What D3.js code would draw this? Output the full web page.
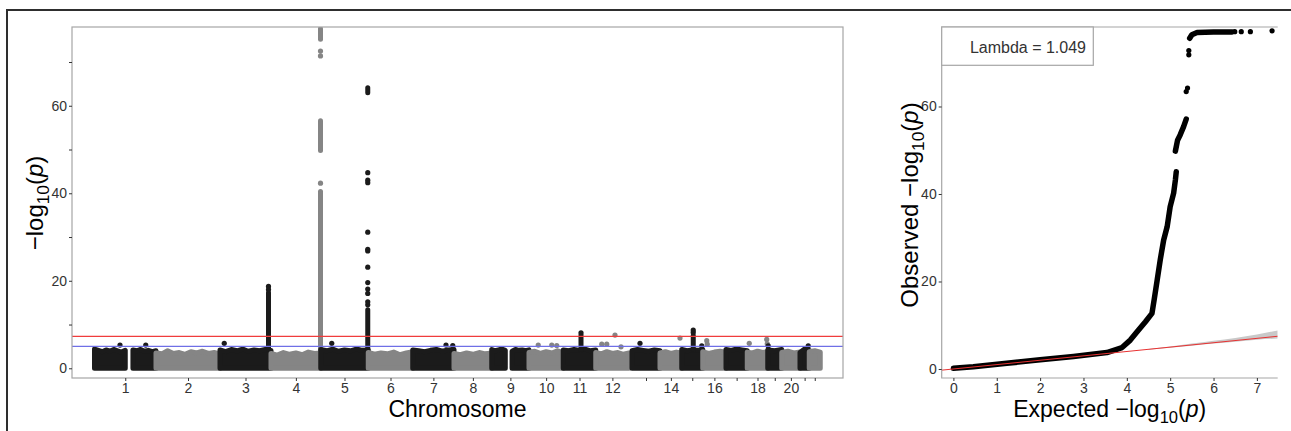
<!DOCTYPE html>
<html>
<head>
<meta charset="utf-8">
<script src="https://cdn.jsdelivr.net/npm/d3@7"></script>
<style>
  body { margin: 0; background: #fff; }
  svg text { font-family: "Liberation Sans", Arial, sans-serif; }
</style>
</head>
<body>
<div id="chart"></div>
<script>
// GWAS Manhattan + QQ — D3 v7

// ---------- Manhattan data ----------
const chrNames = ["1","2","3","4","5","6","7","8","9","10","11","12","13","14","15","16","17","18","19","20","21","22"];
const chrTickLabels = ["1","2","3","4","5","6","7","8","9","10","11","12","","14","","16","","18","","20","",""];
// plotted extent per chromosome (Mb) and offset of first SNP
const chrLen   = [246, 256, 204, 199, 190, 178, 165, 151, 149, 137, 130, 133, 124, 87, 84, 93, 85, 82, 56, 73, 37, 44];
const chrStart = [0, 0, 0, 0, 0, 0, 0, 0, 0, 0, 0, 0, 12, 0, 0, 0, 0, 0, 0, 0, 0, 0];
// upper envelope of the dense SNP cloud, evenly spaced along each chromosome (null = no SNPs)
const bodyTop = [
  [4.4, 4.1, 3.8, 4.2, 3.9, 4.3, 4.0, 3.7, 4.1, null, 4.2, 4.0, 4.3, 3.9, 4.1, 3.8, 4.0],
  [3.5, 3.3, 4.0, 3.4, 3.6, 3.2, 3.8, 3.5, 3.9, 3.4, 3.6, 3.3],
  [4.2, 3.8, 4.3, 4.0, 4.4, 3.9, 4.2, 4.0, 4.3, 4.1],
  [3.4, 3.0, 3.6, 3.2, 3.5, 3.1, 3.7, 3.4, 3.5],
  [4.3, 4.0, 4.4, 3.9, 4.2, 4.0, 4.4, 4.1, 4.2],
  [3.6, 3.2, 3.5, 3.3, 3.7, 3.1, 3.5, 3.8],
  [4.2, 4.0, 3.8, 4.1, 4.3, 3.9, 4.2, 4.3],
  [3.4, 3.1, 3.5, 3.2, 3.6, 3.3, 3.5],
  [4.3, 4.0, 4.2, 4.4, 4.1, null, 3.9, 4.3, 4.1, 4.2, 4.0, 4.2],
  [3.6, 3.9, 3.4, 3.8, 3.5, 4.0, 3.6],
  [4.2, 4.0, 4.3, 4.1, 4.4, 4.0, 4.2],
  [3.6, 3.3, 3.8, 3.4, 3.6, 3.2, 3.5],
  [4.0, 4.3, 4.1, 3.9, 4.2, 4.0],
  [3.5, 3.8, 3.4, 3.7, 3.5],
  [4.3, 4.0, 4.2, 4.1, 4.3],
  [3.8, 3.4, 3.7, 3.9, 3.6],
  [4.3, 4.1, 4.4, 4.2, 4.0],
  [3.7, 3.5, 3.9, 3.6, 3.8],
  [4.2, 4.0, 4.3],
  [3.6, 3.9, 3.5, 3.7],
  [3.6, 4.4, 4.1],
  [3.8, 4.0, 3.7]
];
// dense runs of SNPs at the association peaks
const peakColumns = [
  { chr: 3,  pos: 194, lo: 4.3,  hi: 17.3 },
  { chr: 4,  pos: 198, lo: 4.0,  hi: 40.4 },
  { chr: 4,  pos: 198, lo: 49.8, hi: 56.6 },
  { chr: 4,  pos: 198, lo: 75.2, hi: 77.6 },
  { chr: 5,  pos: 188, lo: 4.3,  hi: 13.4 },
  { chr: 5,  pos: 188, lo: 63.0, hi: 64.1 },
  { chr: 11, pos: 71,  lo: 4.3,  hi: 7.6 },
  { chr: 15, pos: 46,  lo: 4.3,  hi: 7.5 }
];
// single SNPs standing out of the cloud
const peakDots = [
  { chr: 1, pos: 102, p: 5.3 }, { chr: 1, pos: 205, p: 5.3 },
  { chr: 3, pos: 17, p: 5.7 }, { chr: 3, pos: 194, p: 18.0 }, { chr: 3, pos: 194, p: 18.7 },
  { chr: 4, pos: 198, p: 42.3 }, { chr: 4, pos: 198, p: 71.4 }, { chr: 4, pos: 198, p: 72.5 },
  { chr: 5, pos: 44, p: 5.7 },
  { chr: 5, pos: 188, p: 14.5 }, { chr: 5, pos: 188, p: 15.2 }, { chr: 5, pos: 188, p: 17.1 },
  { chr: 5, pos: 188, p: 18.1 }, { chr: 5, pos: 188, p: 19.6 }, { chr: 5, pos: 188, p: 23.1 },
  { chr: 5, pos: 188, p: 26.8 }, { chr: 5, pos: 188, p: 27.2 }, { chr: 5, pos: 188, p: 31.1 },
  { chr: 5, pos: 188, p: 42.4 }, { chr: 5, pos: 188, p: 43.0 }, { chr: 5, pos: 188, p: 44.7 },
  { chr: 7, pos: 133, p: 5.3 }, { chr: 7, pos: 160, p: 5.2 },
  { chr: 10, pos: 37, p: 5.3 }, { chr: 10, pos: 91, p: 5.3 }, { chr: 10, pos: 111, p: 5.2 },
  { chr: 11, pos: 71, p: 8.1 },
  { chr: 12, pos: 24, p: 5.5 }, { chr: 12, pos: 44, p: 5.5 }, { chr: 12, pos: 77, p: 7.6 }, { chr: 12, pos: 101, p: 4.9 },
  { chr: 13, pos: 44, p: 5.7 },
  { chr: 14, pos: 80, p: 6.9 },
  { chr: 15, pos: 46, p: 8.2 }, { chr: 15, pos: 46, p: 8.75 }, { chr: 15, pos: 80, p: 5.1 },
  { chr: 16, pos: 16, p: 6.3 }, { chr: 16, pos: 18, p: 5.5 },
  { chr: 18, pos: 8, p: 5.7 }, { chr: 18, pos: 78, p: 6.6 }, { chr: 18, pos: 80, p: 5.6 },
  { chr: 19, pos: 2, p: 5.1 },
  { chr: 21, pos: 33, p: 5.1 }
];
const genomeWideLine = 7.3;   // 5e-8
const suggestiveLine = 5;     // 1e-5
const manhattanYTicks = [0, 10, 20, 30, 40, 50, 60, 70];
const manhattanYLabels = ["0", "", "20", "", "40", "", "60", ""];

// ---------- QQ data (expected, observed) ----------
const qqSegments = [
  [[0, 0.15], [0.46, 0.5], [1.23, 1.3], [2.0, 2.1], [2.77, 2.85], [3.54, 3.75], [3.89, 4.9], [4.08, 6.6],
   [4.27, 8.9], [4.43, 10.8], [4.58, 12.7], [4.63, 15.8], [4.70, 20.3], [4.77, 24.9], [4.85, 29.5],
   [4.93, 32.5], [5.0, 37.1], [5.08, 40.2], [5.12, 43.2], [5.14, 45.1]],
  [[5.12, 49.8], [5.17, 52.3], [5.23, 53.5], [5.31, 55.4], [5.37, 57.1]],
  [[5.45, 75.6], [5.5, 76.4], [5.62, 76.9], [6.0, 77.0], [6.43, 77.05]]
];
const qqDots = [[5.37, 63.4], [5.40, 64.2], [5.43, 71.8], [5.43, 72.8], [6.49, 77.1], [6.64, 77.1], [6.85, 77.1], [7.35, 77.3]];
const qqBandX  = [4.5, 5, 5.5, 6, 6.5, 7, 7.48];
const qqBandLo = [4.42, 4.88, 5.32, 5.8, 6.25, 6.7, 6.95];
const qqBandHi = [4.58, 5.15, 5.8, 6.45, 7.1, 7.9, 8.8];
const qqXTicks = [0, 1, 2, 3, 4, 5, 6, 7];
const qqYTicks = [0, 20, 40, 60];
const lambdaText = "Lambda = 1.049";

// ---------- setup ----------
const W = 1291, H = 431;
const BLACK = "#1b1b1b", GREY = "#858585", BORDER = "#a6a6a6", TXT = "#333";
const svg = d3.select("#chart").append("svg").attr("width", W).attr("height", H);

// outer frame (right/bottom edges fall outside the picture)
svg.append("rect").attr("x", 7).attr("y", 10).attr("width", 1320).attr("height", 460)
  .attr("fill", "none").attr("stroke", "#2e2e2e").attr("stroke-width", 2);

function styleAxis(g) {
  g.select(".domain").remove();
  g.selectAll(".tick line").attr("stroke", TXT);
  g.selectAll(".tick text").attr("fill", TXT).style("font-size", "14px");
}

// title with −log10(p) in math style
function logLabel(sel, prefix) {
  sel.append("tspan").text(prefix + "\u2212log");
  sel.append("tspan").attr("dy", 6).style("font-size", "0.72em").text("10");
  sel.append("tspan").attr("dy", -6).text("(");
  sel.append("tspan").style("font-style", "italic").text("p");
  sel.append("tspan").text(")");
}

// ---------- Manhattan ----------
const mp = { x0: 72, x1: 843, y0: 27, y1: 378 };
const offsets = chrLen.map((d, i) => d3.sum(chrLen.slice(0, i)));
const xM = d3.scaleLinear().domain([-90, 2994]).range([mp.x0, mp.x1]);
const yM = d3.scaleLinear().domain([-2.22, 78.0]).range([mp.y1, mp.y0]);
const colorOf = chr => ((chr - 1) % 2 === 0 ? BLACK : GREY);

svg.append("clipPath").attr("id", "clipM").append("rect")
  .attr("x", mp.x0).attr("y", mp.y0).attr("width", mp.x1 - mp.x0).attr("height", mp.y1 - mp.y0);
const gM = svg.append("g").attr("clip-path", "url(#clipM)");

bodyTop.forEach((vals, i) => {
  const chr = i + 1, col = colorOf(chr);
  const step = (chrLen[i] - chrStart[i]) / (vals.length - 1);
  const pts = vals.map((v, k) => ({ pos: offsets[i] + chrStart[i] + k * step, v }));
  const area = d3.area()
    .defined(d => d.v != null)
    .x(d => xM(d.pos)).y0(yM(0)).y1(d => yM(d.v));
  gM.append("path").datum(pts).attr("d", area)
    .attr("fill", col).attr("stroke", col).attr("stroke-width", 5).attr("stroke-linejoin", "round");

  peakColumns.filter(c => c.chr === chr).forEach(c => {
    const X = xM(offsets[i] + c.pos);
    gM.append("line").attr("x1", X).attr("x2", X).attr("y1", yM(c.lo)).attr("y2", yM(c.hi))
      .attr("stroke", col).attr("stroke-width", 5).attr("stroke-linecap", "round");
  });
  gM.selectAll(null).data(peakDots.filter(d => d.chr === chr)).join("circle")
    .attr("cx", d => xM(offsets[i] + d.pos)).attr("cy", d => yM(d.p)).attr("r", 2.6).attr("fill", col);
});

// threshold lines
gM.append("line").attr("x1", mp.x0).attr("x2", mp.x1).attr("y1", yM(genomeWideLine)).attr("y2", yM(genomeWideLine))
  .attr("stroke", "#f03c3c").attr("stroke-width", 1.2);
gM.append("line").attr("x1", mp.x0).attr("x2", mp.x1).attr("y1", yM(suggestiveLine)).attr("y2", yM(suggestiveLine))
  .attr("stroke", "#6f6fe6").attr("stroke-width", 1.2);

svg.append("rect").attr("x", mp.x0).attr("y", mp.y0).attr("width", mp.x1 - mp.x0).attr("height", mp.y1 - mp.y0)
  .attr("fill", "none").attr("stroke", BORDER).attr("stroke-width", 1.2);

const centers = chrLen.map((d, i) => offsets[i] + (chrStart[i] + chrLen[i]) / 2);
svg.append("g").attr("transform", `translate(0,${mp.y1})`)
  .call(d3.axisBottom(xM).tickValues(centers).tickFormat((d, i) => chrTickLabels[i]).tickSize(3).tickPadding(2))
  .call(styleAxis);
svg.append("g").attr("transform", `translate(${mp.x0},0)`)
  .call(d3.axisLeft(yM).tickValues(manhattanYTicks).tickFormat((d, i) => manhattanYLabels[i]).tickSize(3).tickPadding(2))
  .call(styleAxis);

svg.append("text").attr("x", (mp.x0 + mp.x1) / 2).attr("y", 417).attr("text-anchor", "middle")
  .style("font-size", "23px").attr("fill", "#000").text("Chromosome");
svg.append("text").attr("transform", "translate(43,203) rotate(-90)").attr("text-anchor", "middle")
  .style("font-size", "24px").attr("fill", "#000").call(logLabel, "");

// ---------- QQ ----------
const qp = { x0: 941.7, x1: 1277.7, y0: 27, y1: 378 };
const xQ = d3.scaleLinear().domain([-0.27, 7.48]).range([qp.x0, qp.x1]);
const yQ = d3.scaleLinear().domain([-2.06, 78.17]).range([qp.y1, qp.y0]);

svg.append("clipPath").attr("id", "clipQ").append("rect")
  .attr("x", qp.x0).attr("y", qp.y0).attr("width", qp.x1 - qp.x0).attr("height", qp.y1 - qp.y0);
const gQ = svg.append("g").attr("clip-path", "url(#clipQ)");

const band = qqBandX.map((x, i) => ({ x, lo: qqBandLo[i], hi: qqBandHi[i] }));
gQ.append("path").datum(band)
  .attr("d", d3.area().x(d => xQ(d.x)).y0(d => yQ(d.lo)).y1(d => yQ(d.hi)).curve(d3.curveMonotoneX))
  .attr("fill", "#c9c9c9");

const qqLine = d3.line().x(d => xQ(d[0])).y(d => yQ(d[1]));
gQ.selectAll(null).data(qqSegments).join("path").attr("d", qqLine)
  .attr("fill", "none").attr("stroke", "#000").attr("stroke-width", 5.5)
  .attr("stroke-linecap", "round").attr("stroke-linejoin", "round");
gQ.selectAll(null).data(qqDots).join("circle")
  .attr("cx", d => xQ(d[0])).attr("cy", d => yQ(d[1])).attr("r", 2.6).attr("fill", "#000");

// y = x reference
gQ.append("line").attr("x1", xQ(-0.27)).attr("y1", yQ(-0.27)).attr("x2", xQ(7.48)).attr("y2", yQ(7.48))
  .attr("stroke", "#e83232").attr("stroke-width", 1);

// panel border: top, left, bottom
svg.append("path")
  .attr("d", `M${qp.x1},${qp.y0}H${qp.x0}V${qp.y1}H${qp.x1}`)
  .attr("fill", "none").attr("stroke", BORDER).attr("stroke-width", 1.2);

svg.append("g").attr("transform", `translate(0,${qp.y1})`)
  .call(d3.axisBottom(xQ).tickValues(qqXTicks).tickFormat(d3.format("d")).tickSize(3).tickPadding(2))
  .call(styleAxis);
svg.append("g").attr("transform", `translate(${qp.x0},0)`)
  .call(d3.axisLeft(yQ).tickValues(qqYTicks).tickFormat(d3.format("d")).tickSize(3).tickPadding(2))
  .call(styleAxis);

// lambda box
svg.append("rect").attr("x", qp.x0).attr("y", qp.y0).attr("width", 151.6).attr("height", 38.3)
  .attr("fill", "#fff").attr("stroke", BORDER).attr("stroke-width", 1.2);
svg.append("text").attr("x", 1086).attr("y", 53).attr("text-anchor", "end")
  .style("font-size", "16px").attr("fill", TXT).text(lambdaText);

svg.append("text").attr("x", (qp.x0 + qp.x1) / 2).attr("y", 417).attr("text-anchor", "middle")
  .style("font-size", "23px").attr("fill", "#000").call(logLabel, "Expected  ");
svg.append("text").attr("transform", "translate(918,205) rotate(-90)").attr("text-anchor", "middle")
  .style("font-size", "24px").attr("fill", "#000").call(logLabel, "Observed  ");
</script>
</body>
</html>
